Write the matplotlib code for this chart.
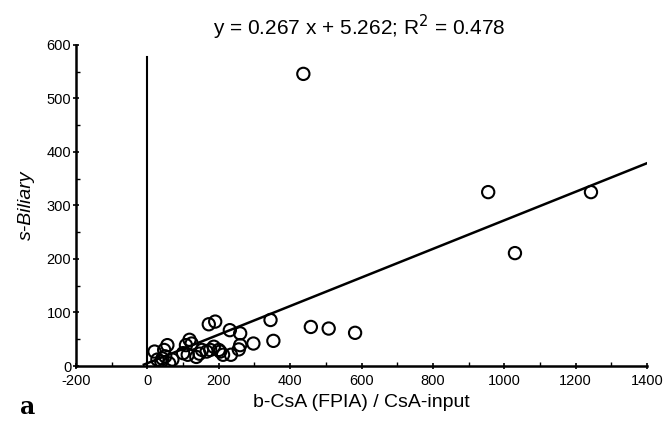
import matplotlib
matplotlib.use("Agg")
import matplotlib.pyplot as plt
import numpy as np
from matplotlib.ticker import MultipleLocator

plt.rcParams['font.family'] = ['Liberation Sans', 'DejaVu Sans']
plt.rcParams['axes.unicode_minus'] = False

# data
x_vals = [20, 28, 42, 47, 56, 61, 39, 70, 108, 113, 118, 124, 137, 153, 166, 176,
          172, 190, 200, 204, 212, 231, 234, 256, 260, 260, 297, 345, 353,
          458, 508, 582, 437, 955, 1030, 1243, 50, 100, 186, 146]
y_vals = [27, 12, 14, 30, 39, 5, 8, 12, 39, 21, 49, 42, 17, 30, 27, 30,
          78, 83, 30, 27, 21, 67, 21, 31, 39, 61, 42, 86, 47,
          73, 70, 62, 546, 325, 211, 325, 18, 24, 36, 23]
slope = 0.267
intercept = 5.262
fit_x = [-10, 1410]
xticks = [-200, 0, 200, 400, 600, 800, 1000, 1200, 1400]
yticks = [0, 100, 200, 300, 400, 500, 600]

fig = plt.figure(figsize=(6.67, 4.22), dpi=100)
ax = fig.add_axes([0.114, 0.1327, 0.856, 0.7607])

ax.scatter(x_vals, y_vals, s=78, facecolors='none', edgecolors='black', linewidths=1.5, zorder=3)
fx = np.array(fit_x, dtype=float)
ax.plot(fx, slope * fx + intercept, color='black', lw=1.8)
ax.plot([0, 0], [0, 577], color='black', lw=1.5)

ax.set_xlim(-200, 1400)
ax.set_ylim(0, 600)
for s in ['top', 'right']:
    ax.spines[s].set_visible(False)
for s in ['left', 'bottom']:
    ax.spines[s].set_linewidth(1.8)
ax.set_xticks(xticks)
ax.set_yticks(yticks)
ax.xaxis.set_minor_locator(MultipleLocator(100))
ax.yaxis.set_minor_locator(MultipleLocator(50))
ax.tick_params(axis='both', which='major', direction='inout', length=5, width=1.2, labelsize=10.5)
ax.tick_params(axis='both', which='minor', direction='in', length=3, width=1.0)
ax.tick_params(axis='y', pad=1)

ax.set_xlabel('b-CsA (FPIA) / CsA-input', fontsize=14, labelpad=4)
ax.set_ylabel('s-Biliary', fontsize=14, style='italic', labelpad=8)
fig.text(0.538, 0.935, 'y = 0.267 x + 5.262; R$^2$ = 0.478', ha='center', va='center', fontsize=15)
fig.text(0.03, 0.035, 'a', fontsize=17, fontweight='bold', family='DejaVu Serif', ha='left', va='center')

fig.savefig('out.png', dpi=100)
